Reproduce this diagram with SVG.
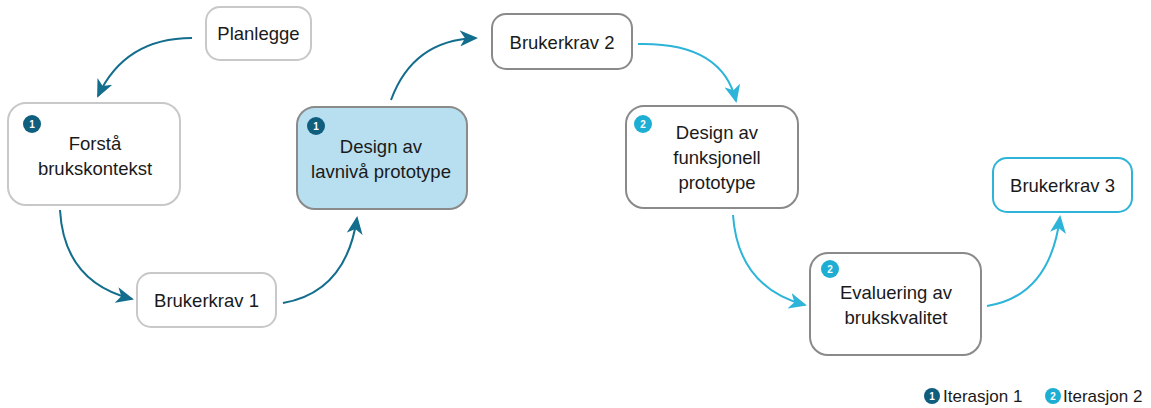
<svg xmlns="http://www.w3.org/2000/svg" width="1151" height="408" viewBox="0 0 1151 408">
<defs>
<style>
.box{fill:#fff;stroke:#c8c8c8;stroke-width:2}
.boxd{fill:#fff;stroke:#8a8a8a;stroke-width:2}
.boxb{fill:#b8dff0;stroke:#8a8a8a;stroke-width:2}
.boxc{fill:#fff;stroke:#2db4d8;stroke-width:2}
.t{font-family:"Liberation Sans",Arial,sans-serif;font-size:18.5px;fill:#1a1a1a;text-anchor:middle}
.lg{font-family:"Liberation Sans",Arial,sans-serif;font-size:17px;fill:#1a1a1a}
.b1{fill:#0f5e7e}
.b2{fill:#1eaed4}
.bn{font-family:"Liberation Sans",Arial,sans-serif;font-size:10px;font-weight:bold;fill:#fff;text-anchor:middle}
.c1{fill:none;stroke:#136d8c;stroke-width:2}
.c2{fill:none;stroke:#2db4d8;stroke-width:2}
</style>
<marker id="a1" markerUnits="userSpaceOnUse" markerWidth="18" markerHeight="16" refX="16" refY="8" orient="auto" viewBox="0 0 18 16">
<path d="M0,0 L18,8 L0,16 L5,8 z" fill="#136d8c"/>
</marker>
<marker id="a2" markerUnits="userSpaceOnUse" markerWidth="18" markerHeight="16" refX="16" refY="8" orient="auto" viewBox="0 0 18 16">
<path d="M0,0 L18,8 L0,16 L5,8 z" fill="#2db4d8"/>
</marker>
</defs>
<rect width="1151" height="408" fill="#fff"/>
<g id="connectors">
<path class="c1" d="M192 38 Q125 38 98 96" marker-end="url(#a1)"/>
<path class="c1" d="M60 210 Q64 282 132 299" marker-end="url(#a1)"/>
<path class="c1" d="M283 303 Q346 292 357 218" marker-end="url(#a1)"/>
<path class="c1" d="M391 100 Q413 40 476 38" marker-end="url(#a1)"/>
<path class="c2" d="M638 44 Q722 42 736 101" marker-end="url(#a2)"/>
<path class="c2" d="M733 215 Q738 287 805 305" marker-end="url(#a2)"/>
<path class="c2" d="M987 306 Q1050 296 1060 217" marker-end="url(#a2)"/>
</g>
<g id="planlegge">
<rect class="box" x="206" y="7" width="105" height="53" rx="14"/>
<text class="t" x="258.5" y="40">Planlegge</text>
</g>
<g id="forsta">
<rect class="box" x="8" y="103" width="172" height="102" rx="18"/>
<circle class="b1" cx="32" cy="124" r="9"/>
<text class="bn" x="32" y="127.5">1</text>
<text class="t" x="95" y="150">Forstå</text>
<text class="t" x="95" y="175">brukskontekst</text>
</g>
<g id="brukerkrav1">
<rect class="box" x="137" y="273" width="139" height="54" rx="14"/>
<text class="t" x="206.5" y="307">Brukerkrav 1</text>
</g>
<g id="design-lavniva">
<rect class="boxb" x="297" y="107" width="170" height="102" rx="18"/>
<circle class="b1" cx="316" cy="126" r="9"/>
<text class="bn" x="316" y="129.5">1</text>
<text class="t" x="381" y="153">Design av</text>
<text class="t" x="381" y="178">lavnivå prototype</text>
</g>
<g id="brukerkrav2">
<rect class="boxd" x="492" y="14" width="140" height="55" rx="14"/>
<text class="t" x="562" y="49">Brukerkrav 2</text>
</g>
<g id="design-funksjonell">
<rect class="boxd" x="626" y="106" width="172" height="102" rx="18"/>
<circle class="b2" cx="643" cy="124" r="9"/>
<text class="bn" x="643" y="127.5">2</text>
<text class="t" x="717" y="139">Design av</text>
<text class="t" x="717" y="164">funksjonell</text>
<text class="t" x="717" y="189">prototype</text>
</g>
<g id="evaluering">
<rect class="boxd" x="810" y="253" width="171" height="102" rx="18"/>
<circle class="b2" cx="830" cy="269" r="9"/>
<text class="bn" x="830" y="272.5">2</text>
<text class="t" x="896" y="299">Evaluering av</text>
<text class="t" x="896" y="324">brukskvalitet</text>
</g>
<g id="brukerkrav3">
<rect class="boxc" x="993" y="158" width="139" height="54" rx="14"/>
<text class="t" x="1062.5" y="192">Brukerkrav 3</text>
</g>
<g id="legend">
<circle class="b1" cx="932" cy="396" r="8"/>
<text class="bn" x="932" y="399.5">1</text>
<text class="lg" x="943" y="402">Iterasjon 1</text>
<circle class="b2" cx="1053" cy="396" r="8"/>
<text class="bn" x="1053" y="399.5">2</text>
<text class="lg" x="1063" y="402">Iterasjon 2</text>
</g>
</svg>
